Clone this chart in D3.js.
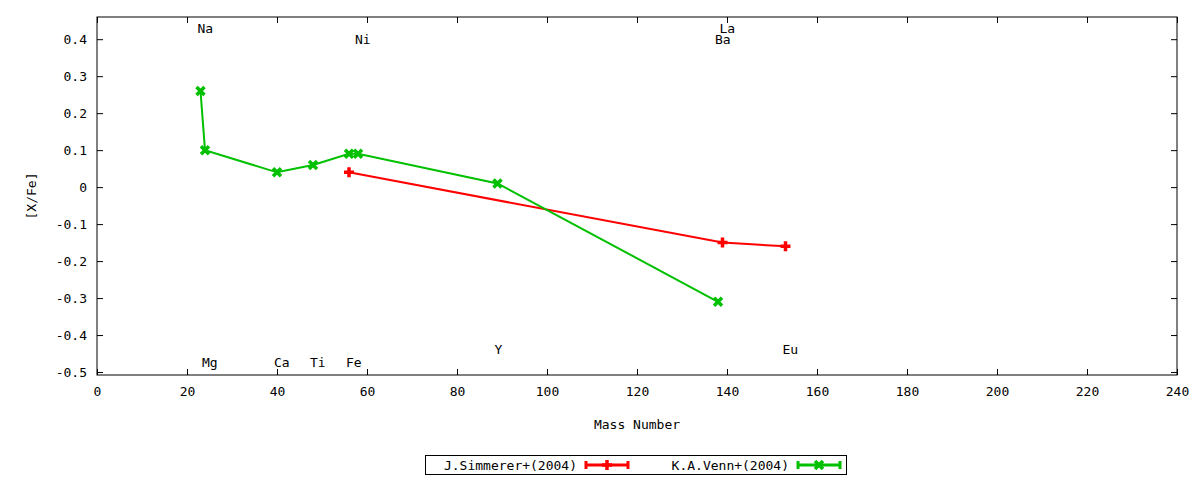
<!DOCTYPE html>
<html lang="en">
<head>
    <meta charset="UTF-8">
    <title>[X/Fe] vs Mass Number</title>
    <style>
        body { margin: 0; background: #fff; }
        svg text { font-family: 'DejaVu Sans Mono', monospace; font-size: 13px; fill: #000; }
    </style>
</head>
<body>
    <svg id="chart" width="1200" height="480"></svg>
    <script src="https://d3js.org/d3.v7.min.js"></script>
    <script>
        // data
        const simmererMass = [56, 139, 153];
        const simmererVal = [0.04, -0.15, -0.16];
        const vennMass = [23, 24, 40, 48, 56, 58, 89, 138];
        const vennVal = [0.26, 0.10, 0.04, 0.06, 0.09, 0.09, 0.01, -0.31];

        const elemNames = ['Na', 'Mg', 'Ca', 'Ti', 'Fe', 'Ni', 'Y', 'Ba', 'La', 'Eu'];
        const elemMass = [23, 24, 40, 48, 56, 58, 89, 138, 139, 153];
        const elemLabelY = [0.43, -0.475, -0.475, -0.475, -0.475, 0.40, -0.44, 0.40, 0.43, -0.44];

        const xTicks = [0, 20, 40, 60, 80, 100, 120, 140, 160, 180, 200, 220, 240];
        const yTicks = [0.4, 0.3, 0.2, 0.1, 0, -0.1, -0.2, -0.3, -0.4, -0.5];

        const seriesNames = ['J.Simmerer+(2004)', 'K.A.Venn+(2004)'];

        const plotLeft = 97, plotRight = 1177, plotTop = 17, plotBottom = 375;

        const svg = d3.select('#chart');

        const x = d3.scaleLinear().domain([0, 240]).range([plotLeft, plotRight]);
        const y = d3.scaleLinear().domain([-0.508, 0.46]).range([plotBottom, plotTop]);

        const fmtY = v => v === 0 ? '0' : d3.format('.1f')(v).replace('−', '-');

        // axes (ticks inward, mirrored)
        svg.append('g').attr('transform', `translate(0,${plotBottom})`)
            .call(d3.axisBottom(x).tickValues(xTicks).tickSize(-6).tickPadding(12).tickFormat(d3.format('d')));
        svg.append('g').attr('transform', `translate(0,${plotTop})`)
            .call(d3.axisTop(x).tickValues(xTicks).tickSize(-6).tickFormat(''));
        svg.append('g').attr('transform', `translate(${plotLeft},0)`)
            .call(d3.axisLeft(y).tickValues(yTicks).tickSize(-6).tickPadding(10).tickFormat(fmtY));
        svg.append('g').attr('transform', `translate(${plotRight},0)`)
            .call(d3.axisRight(y).tickValues(yTicks).tickSize(-6).tickFormat(''));
        svg.selectAll('.domain').remove();
        svg.selectAll('.tick line').attr('stroke', '#000');
        svg.selectAll('.tick text').style('font-family', "'DejaVu Sans Mono', monospace").style('font-size', '13px').attr('fill', '#000');

        svg.append('rect')
            .attr('x', plotLeft).attr('y', plotTop)
            .attr('width', plotRight - plotLeft).attr('height', plotBottom - plotTop)
            .attr('fill', 'none').attr('stroke', '#000').attr('stroke-width', 1);

        // axis titles
        svg.append('text')
            .attr('x', (plotLeft + plotRight) / 2).attr('y', 429)
            .attr('text-anchor', 'middle')
            .text('Mass Number');
        svg.append('text')
            .attr('transform', `translate(36,${(plotTop + plotBottom) / 2}) rotate(-90)`)
            .attr('text-anchor', 'middle')
            .text('[X/Fe]');

        // element labels
        svg.append('g').selectAll('text')
            .data(elemNames)
            .enter()
            .append('text')
            .attr('x', (d, i) => x(elemMass[i]) - 3)
            .attr('y', (d, i) => y(elemLabelY[i]))
            .attr('dy', '0.35em')
            .text(d => d);

        const line = d3.line().x(d => x(d[0])).y(d => y(d[1]));

        function plusPath(cx, cy, s) {
            return `M${cx - s},${cy}H${cx + s}M${cx},${cy - s}V${cy + s}`;
        }
        function crossPath(cx, cy, s) {
            return `M${cx - s},${cy - s}L${cx + s},${cy + s}M${cx - s},${cy + s}L${cx + s},${cy - s}`;
        }

        const series = [
            { mass: simmererMass, val: simmererVal, color: '#ff0000', marker: plusPath, size: 5 },
            { mass: vennMass, val: vennVal, color: '#00c000', marker: crossPath, size: 4 }
        ];

        series.forEach(s => {
            const pts = s.mass.map((m, i) => [m, s.val[i]]);
            svg.append('path')
                .datum(pts)
                .attr('d', line)
                .attr('fill', 'none')
                .attr('stroke', s.color)
                .attr('stroke-width', 2);
            svg.append('g').selectAll('path')
                .data(pts)
                .enter()
                .append('path')
                .attr('d', d => s.marker(x(d[0]), y(d[1]), s.size))
                .attr('stroke', s.color)
                .attr('stroke-width', 3.5)
                .attr('fill', 'none');
        });

        // legend
        const lg = svg.append('g');
        lg.append('rect')
            .attr('x', 425.5).attr('y', 455.5)
            .attr('width', 421).attr('height', 19)
            .attr('fill', '#fff').attr('stroke', '#000');
        const legendX = [577, 789];
        series.forEach((s, i) => {
            const tx = legendX[i];
            const cy = 465;
            lg.append('text')
                .attr('x', tx).attr('y', cy)
                .attr('dy', '0.35em')
                .attr('text-anchor', 'end')
                .text(seriesNames[i]);
            const x0 = tx + 9, x1 = tx + 51, xm = (x0 + x1) / 2;
            lg.append('path')
                .attr('d', `M${x0},${cy}H${x1}M${x0},${cy - 4}V${cy + 4}M${x1},${cy - 4}V${cy + 4}`)
                .attr('stroke', s.color).attr('stroke-width', 3).attr('fill', 'none');
            lg.append('path')
                .attr('d', s.marker(xm, cy, s.size))
                .attr('stroke', s.color).attr('stroke-width', 3.5).attr('fill', 'none');
        });
    </script>
</body>
</html>
